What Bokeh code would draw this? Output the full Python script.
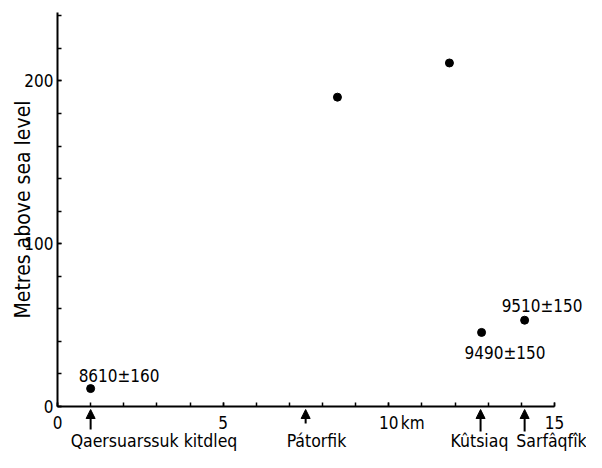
from bokeh.plotting import figure
from bokeh.models import Range1d, FixedTicker, Arrow, NormalHead, ColumnDataSource
from bokeh.core.properties import value
from bokeh.embed import file_html
from bokeh.resources import INLINE

# ---------------- data ----------------
point_km = [1.0, 8.45, 11.83, 12.80, 14.10]
point_m = [11, 190, 211, 45.5, 53]

date_labels = ["8610\u00b1160", "9490\u00b1150", "9510\u00b1150"]
date_km = [1.0, 12.80, 14.10]
date_m = [11, 45.5, 53]

sites = ["Qaersuarssuk kitdleq", "P\u00e1torfik", "K\u00fbtsiaq", "Sarf\u00e2qf\u00eek"]
site_km = [1.0, 7.49, 12.77, 14.10]

x_ticks = [0, 5, 10, 15]
x_minor = list(range(0, 16))
y_ticks = [0, 100, 200]
y_minor = list(range(0, 241, 20))
x_unit = "km"
y_title = "Metres above sea level"

# ---------------- layout / style ----------------
FONT = "DejaVu Sans Condensed"
FS_NUM = "17px"
FS_NAME = "17.5px"
FS_TITLE = "21px"
W, H = 586, 452
ORIGIN_X = 57      # pixel column of x = 0
KM_PX = 33.13
ZERO_Y = 406       # pixel row of y = 0
M_PX = (406 - 12) / 242.0
BASE_FIX = -6      # text baseline correction (px)

date_dx = [-12, -17, -23]
date_dy = [-7 + BASE_FIX, 27 + BASE_FIX, -8 + BASE_FIX]
arrow_tail_px = [23, 17, 25, 25]
arrow_tip_px = 3
site_align = ["left", "left", "left", "right"]
site_dx = [-20, -19, -30, 62]
site_base_px = 40 + BASE_FIX

p = figure(width=W, height=H,
           x_range=Range1d(-ORIGIN_X / KM_PX, (W - ORIGIN_X) / KM_PX),
           y_range=Range1d(-(H - ZERO_Y) / M_PX, ZERO_Y / M_PX),
           output_backend="svg", toolbar_location=None,
           min_border_left=0, min_border_right=0,
           min_border_top=0, min_border_bottom=0)
p.outline_line_color = None
p.xgrid.visible = False
p.ygrid.visible = False
p.background_fill_color = "white"

for ax in (p.xaxis[0], p.yaxis[0]):
    ax.axis_line_width = 2
    ax.axis_line_color = "black"
    ax.major_tick_in = 4
    ax.major_tick_out = 0
    ax.minor_tick_in = 4
    ax.minor_tick_out = 0
    ax.major_tick_line_width = 1.5
    ax.minor_tick_line_width = 1.5
    ax.major_tick_line_color = "black"
    ax.minor_tick_line_color = "black"
    ax.major_label_text_font = FONT
    ax.major_label_text_font_size = FS_NUM
    ax.major_label_text_color = "black"

p.xaxis.fixed_location = 0
p.xaxis.bounds = (0, 15)
p.xaxis.ticker = FixedTicker(ticks=x_ticks, minor_ticks=x_minor)
p.xaxis.major_label_standoff = 9

p.yaxis.fixed_location = 0
p.yaxis.bounds = (0, 242)
p.yaxis.ticker = FixedTicker(ticks=y_ticks, minor_ticks=y_minor)
p.yaxis.major_label_standoff = 4
p.yaxis.axis_label = y_title
p.yaxis.axis_label_text_font = FONT
p.yaxis.axis_label_text_font_size = FS_TITLE
p.yaxis.axis_label_text_font_style = "normal"
p.yaxis.axis_label_text_color = "black"
p.yaxis.axis_label_standoff = -14

# points
p.scatter(point_km, point_m, size=8, color="black")

# date labels
dsrc = ColumnDataSource(dict(x=date_km, y=date_m, t=date_labels, dx=date_dx, dy=date_dy))
p.text(x="x", y="y", text="t", x_offset="dx", y_offset="dy", source=dsrc,
       text_font=value(FONT), text_font_size=FS_NUM, text_color="black",
       text_align="left", text_baseline="alphabetic")

# km unit next to "10"
p.text(x=[x_ticks[2]], y=[0], text=[x_unit], x_offset=12, y_offset=22 + BASE_FIX,
       text_font=value(FONT), text_font_size=FS_NUM, text_color="black",
       text_align="left", text_baseline="alphabetic")

# arrows and site names
asrc = ColumnDataSource(dict(
    x0=site_km, x1=site_km,
    y0=[-t / M_PX for t in arrow_tail_px],
    y1=[-arrow_tip_px / M_PX] * len(site_km)))
p.add_layout(Arrow(end=NormalHead(size=9, fill_color="black", line_color="black", line_width=1),
                   x_start="x0", y_start="y0", x_end="x1", y_end="y1",
                   line_width=2, line_color="black", source=asrc))

ssrc = ColumnDataSource(dict(x=site_km, y=[-site_base_px / M_PX] * len(site_km),
                             t=sites, dx=site_dx, a=site_align))
p.text(x="x", y="y", text="t", x_offset="dx", source=ssrc,
       text_font=value(FONT), text_font_size=FS_NAME, text_color="black",
       text_align="a", text_baseline="alphabetic")

open("out.html", "w").write(file_html(p, INLINE))
